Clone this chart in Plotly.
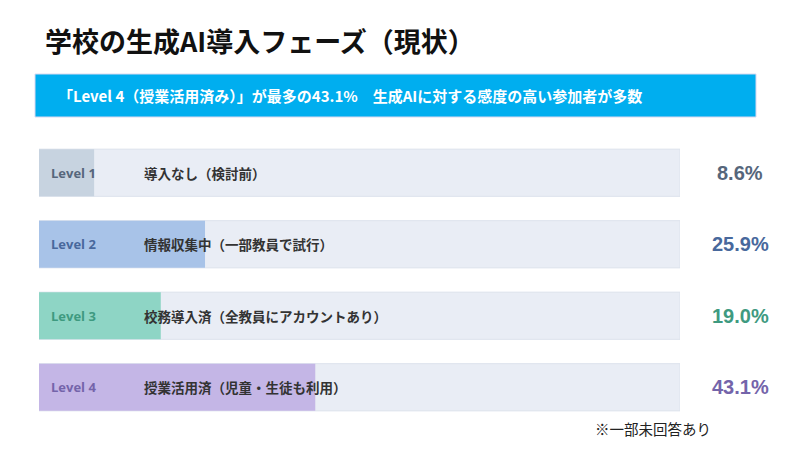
import plotly.graph_objects as go

levels = ["Level 1", "Level 2", "Level 3", "Level 4"]
descriptions = [
    "導入なし（検討前）",
    "情報収集中（一部教員で試行）",
    "校務導入済（全教員にアカウントあり）",
    "授業活用済（児童・生徒も利用）",
]
shares = [8.6, 25.9, 19.0, 43.1]

fill_colors = ["#C7D3E0", "#A8C3E8", "#8ED5C5", "#C4B6E6"]
text_colors = ["#56667B", "#48689C", "#3E9A80", "#7464AA"]

title_text = "学校の生成AI導入フェーズ（現状）"
banner_text = "「Level 4（授業活用済み）」が最多の43.1%　生成AIに対する感度の高い参加者が多数"
note_text = "※一部未回答あり"

# page body has an 8px margin, so work in screen pixels and shift
OFF = 8
W, H = 800 - 2 * OFF, 450 - 2 * OFF
L = 39 - OFF
T = 137 - OFF
B = H - (423 - OFF)
R = W - (680 - OFF)
PW, PH = W - L - R, H - T - B


def px_x(px):
    return (px - OFF - L) / PW


def px_y(py):
    return (H - B - (py - OFF)) / PH


fig = go.Figure()

# grey track behind each bar
fig.add_trace(go.Bar(
    y=levels, x=[100] * len(levels), orientation="h",
    marker=dict(color="#E9EDF5", line=dict(color="#DCE2EC", width=1)),
    width=0.66, hoverinfo="skip", showlegend=False,
))
fig.add_trace(go.Bar(
    y=levels, x=shares, orientation="h",
    marker=dict(color=fill_colors, line=dict(width=0)),
    width=0.66, showlegend=False,
))

for i, lv in enumerate(levels):
    fig.add_annotation(x=1.6, y=lv, xref="x", yref="y", text=f"<b>{lv}</b>",
                       showarrow=False, xanchor="left",
                       font=dict(family="Open Sans", size=13, color=text_colors[i]))
    fig.add_annotation(x=16.1, y=lv, xref="x", yref="y", text=f"<b>{descriptions[i]}</b>",
                       showarrow=False, xanchor="left",
                       font=dict(family="Noto Sans CJK JP", size=13.5, color="#333333"))
    fig.add_annotation(x=px_x(740), y=lv, xref="paper", yref="y", text=f"<b>{shares[i]:.1f}%</b>",
                       showarrow=False, xanchor="center",
                       font=dict(family="Liberation Sans", size=20, color=text_colors[i]))

# title
fig.add_annotation(x=px_x(43), y=px_y(40), xref="paper", yref="paper", text=f"<b>{title_text}</b>",
                   showarrow=False, xanchor="left", yanchor="middle",
                   font=dict(family="Noto Sans CJK JP", size=27, color="#111111"))

# blue banner
fig.add_shape(type="rect", xref="paper", yref="paper",
              x0=px_x(35), x1=px_x(756), y0=px_y(117), y1=px_y(74),
              fillcolor="#00AEEF", line=dict(color="#D8D8F0", width=1), layer="below")
fig.add_annotation(x=px_x(56), y=px_y(95), xref="paper", yref="paper", text=f"<b>{banner_text}</b>",
                   showarrow=False, xanchor="left", yanchor="middle",
                   font=dict(family="Noto Sans CJK JP", size=15, color="#FFFFFF"))

# footnote
fig.add_annotation(x=px_x(713), y=px_y(428), xref="paper", yref="paper", text=note_text,
                   showarrow=False, xanchor="right", yanchor="middle",
                   font=dict(family="Noto Sans CJK JP", size=14.5, color="#222222"))

fig.update_layout(
    width=W, height=H,
    margin=dict(l=L, r=R, t=T, b=B),
    barmode="overlay",
    paper_bgcolor="#FFFFFF", plot_bgcolor="#FFFFFF",
    xaxis=dict(range=[0, 100], visible=False, fixedrange=True),
    yaxis=dict(autorange="reversed", visible=False, fixedrange=True),
)

fig.write_html("out.html")
